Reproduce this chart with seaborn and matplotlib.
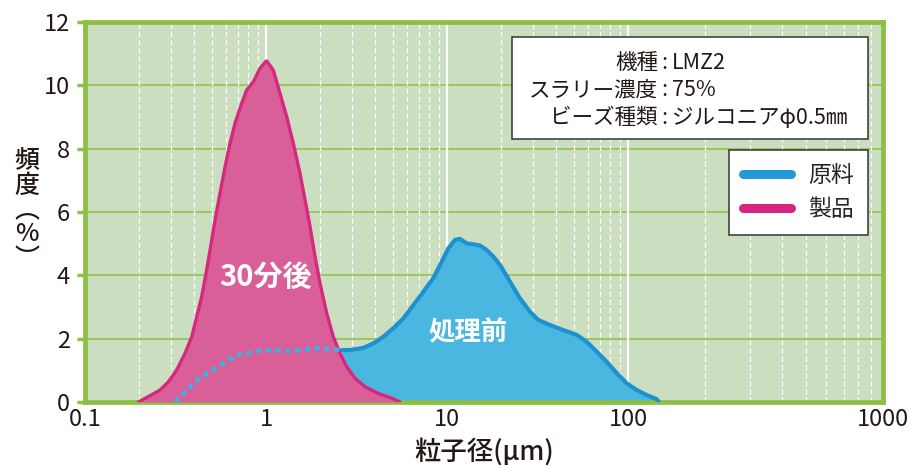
import numpy as np
import pandas as pd
import matplotlib
matplotlib.use("Agg")
import matplotlib.pyplot as plt
from matplotlib.lines import Line2D
from matplotlib.patches import Rectangle
import seaborn as sns

# Particle size distribution (frequency %) vs particle diameter (µm)
# raw material (solid part) and its fine tail (dotted part, hidden under the product)
raw_size = [2.62, 2.91, 3.45, 3.92, 4.45, 5.05, 5.74, 6.52, 7.40, 8.40, 9.35,
            10.17, 11.07, 11.80, 12.85, 13.98, 15.22, 16.58, 18.03, 19.63,
            22.29, 25.31, 28.75, 31.94, 37.08, 43.91, 52.08, 59.13, 67.15,
            76.26, 86.6, 98.3, 108.2, 118.4, 129.6, 132.0]
raw_freq = [1.64, 1.64, 1.71, 1.85, 2.06, 2.33, 2.64, 3.06, 3.48, 3.91, 4.43,
            4.85, 5.12, 5.15, 5.01, 4.98, 4.94, 4.80, 4.59, 4.33,
            3.80, 3.27, 2.85, 2.59, 2.43, 2.27, 2.12, 1.90, 1.59,
            1.27, 0.91, 0.59, 0.38, 0.22, 0.09, 0.0]

raw_fine_size = [0.314, 0.416, 0.536, 0.69, 0.96, 1.36, 1.91, 2.62]
raw_fine_freq = [0.0, 0.70, 1.10, 1.48, 1.64, 1.61, 1.70, 1.64]

prod_size = [0.197, 0.224, 0.260, 0.289, 0.321, 0.357, 0.389, 0.414, 0.441,
             0.470, 0.491, 0.523, 0.557, 0.594, 0.633, 0.674, 0.734, 0.782,
             0.851, 0.927, 0.996, 1.009, 1.097, 1.195, 1.301, 1.415, 1.541,
             1.643, 1.751, 1.866, 1.988, 2.165, 2.354, 2.564, 2.792, 3.102,
             3.524, 4.173, 4.949, 5.5]
prod_freq = [0.0, 0.17, 0.38, 0.64, 1.01, 1.54, 2.06, 2.69, 3.32,
             4.17, 4.80, 5.75, 6.59, 7.43, 8.17, 8.80, 9.43, 9.85,
             10.11, 10.54, 10.75, 10.77, 10.48, 9.75, 9.01, 8.17, 7.22,
             6.38, 5.54, 4.59, 3.75, 2.80, 2.06, 1.54, 1.11, 0.75,
             0.48, 0.27, 0.12, 0.0]

x_ticks = [0.1, 1, 10, 100, 1000]
x_tick_labels = ["0.1", "1", "10", "100", "1000"]
y_ticks = [0, 2, 4, 6, 8, 10, 12]

info_keys = ["機種", "スラリー濃度", "ビーズ種類"]
info_vals = ["LMZ2", "75%", "ジルコニアφ0.5㎜"]
legend_labels = ["原料", "製品"]

BG = "#cbdfc0"
FRAME = "#8cbf42"
HGRID = "#98c85c"
BLUE_FILL = "#4ab7e1"
BLUE_LINE = "#1e92d1"
PINK_FILL = "#d95f98"
PINK_LINE = "#d6287f"
INK = "#231815"

sns.set_style("white")
plt.rcParams["font.family"] = ["Noto Sans CJK JP", "DejaVu Sans"]

fig = plt.figure(figsize=(9.17, 4.68), dpi=100)
ax = fig.add_axes([85 / 917, (468 - 402) / 468, (883 - 85) / 917, (402 - 22) / 468])
ax.set_facecolor(BG)

# log axis whose last decade (100-1000) is drawn wider
K = 255 / 181


def fwd(x):
    l = np.log10(np.clip(x, 1e-6, None))
    return np.where(l <= 2, l, 2 + (l - 2) * K)


def inv(f):
    f = np.asarray(f, dtype=float)
    return np.where(f <= 2, 10 ** f, 10 ** (2 + (f - 2) / K))


ax.set_xscale("function", functions=(fwd, inv))
ax.set_xlim(0.1, 1000)
ax.set_ylim(0, 12)

# grid
for v in [2, 4, 6, 8, 10]:
    ax.axhline(v, color=HGRID, lw=1.4, zorder=1)
for dec in [0.1, 1, 10, 100]:
    for m in range(2, 10):
        ax.axvline(dec * m, color="white", lw=0.9, ls=(0, (4, 2.5)), zorder=1)
for v in [1, 10, 100]:
    ax.axvline(v, color="white", lw=1.6, zorder=1)

raw_df = pd.DataFrame({"size": raw_size, "freq": raw_freq})
fine_df = pd.DataFrame({"size": raw_fine_size, "freq": raw_fine_freq})
prod_df = pd.DataFrame({"size": prod_size, "freq": prod_freq})

ax.fill_between(raw_df["size"], raw_df["freq"], color=BLUE_FILL, lw=0, zorder=2)
ax.fill_between(prod_df["size"], prod_df["freq"], color=PINK_FILL, lw=0, zorder=3)
sns.lineplot(data=raw_df, x="size", y="freq", ax=ax, color=BLUE_LINE, lw=3.0,
             zorder=4, sort=False, solid_joinstyle="round",
             solid_capstyle="round")
sns.lineplot(data=prod_df, x="size", y="freq", ax=ax, color=PINK_LINE, lw=2.4,
             zorder=5, sort=False, solid_joinstyle="round")
sns.lineplot(data=fine_df, x="size", y="freq", ax=ax, color="#3fb0e0", lw=3.2,
             ls=(0, (1.2, 1.0)), zorder=6, sort=False)

ax.text(0.99, 3.95, "30分後", color="white", fontsize=21, fontweight="bold",
        ha="center", va="center", zorder=7)
ax.text(13.0, 2.17, "処理前", color="white", fontsize=19, fontweight="bold",
        ha="center", va="center", zorder=7)

# axes styling
for s in ax.spines.values():
    s.set_color(FRAME)
    s.set_linewidth(3.4)
    s.set_visible(True)
ax.set_xticks(x_ticks)
ax.set_xticklabels(x_tick_labels)
ax.xaxis.set_minor_locator(matplotlib.ticker.NullLocator())
ax.set_yticks(y_ticks)
ax.tick_params(axis="x", length=0, pad=4, labelsize=17, labelcolor=INK)
ax.tick_params(axis="y", length=6, width=2.5, color=FRAME, direction="out",
               pad=5, labelsize=17, labelcolor=INK, left=True)
ax.set_xlabel("粒子径(μm)", fontsize=19, fontweight="medium", color=INK,
              labelpad=5)
ax.set_ylabel("")
fig.text(27 / 917, 1 - 210 / 468, "頻\n度\n︵\n%\n︶", fontsize=18,
         fontweight="medium", color=INK, ha="center", va="center",
         linespacing=0.92)

# condition box
ax.add_patch(Rectangle((512 / 917, 1 - 139 / 468), (868 - 512) / 917,
                       (139 - 37) / 468, transform=fig.transFigure,
                       facecolor="white", edgecolor="#333333", lw=1.1,
                       zorder=8))
colon_x = 664
for i, (k, v) in enumerate(zip(info_keys, info_vals)):
    yy = 1 - (63 + i * 27.5) / 468
    fig.text((colon_x - 6) / 917, yy, k, fontsize=15.5, ha="right", va="center",
             color=INK, zorder=9)
    fig.text(colon_x / 917, yy, ":", fontsize=15.5, ha="center", va="center",
             color=INK, zorder=9)
    fig.text((colon_x + 8) / 917, yy, v, fontsize=15.5, ha="left", va="center",
             color=INK, zorder=9)

handles = [Line2D([], [], color="#229ad8", lw=6.5, solid_capstyle="round"),
           Line2D([], [], color="#d6247f", lw=6.5, solid_capstyle="round")]
leg = ax.legend(handles, legend_labels, loc="upper right",
                bbox_to_anchor=(868 / 917, 1 - 150 / 468),
                bbox_transform=fig.transFigure, fontsize=16.5, frameon=True,
                fancybox=False, edgecolor="#333333", framealpha=1,
                handlelength=2.1, handletextpad=0.75, borderpad=0.6,
                borderaxespad=0, labelspacing=0.5)
leg.get_frame().set_linewidth(1.1)
leg.set_zorder(10)

fig.savefig("out.png", dpi=100)
